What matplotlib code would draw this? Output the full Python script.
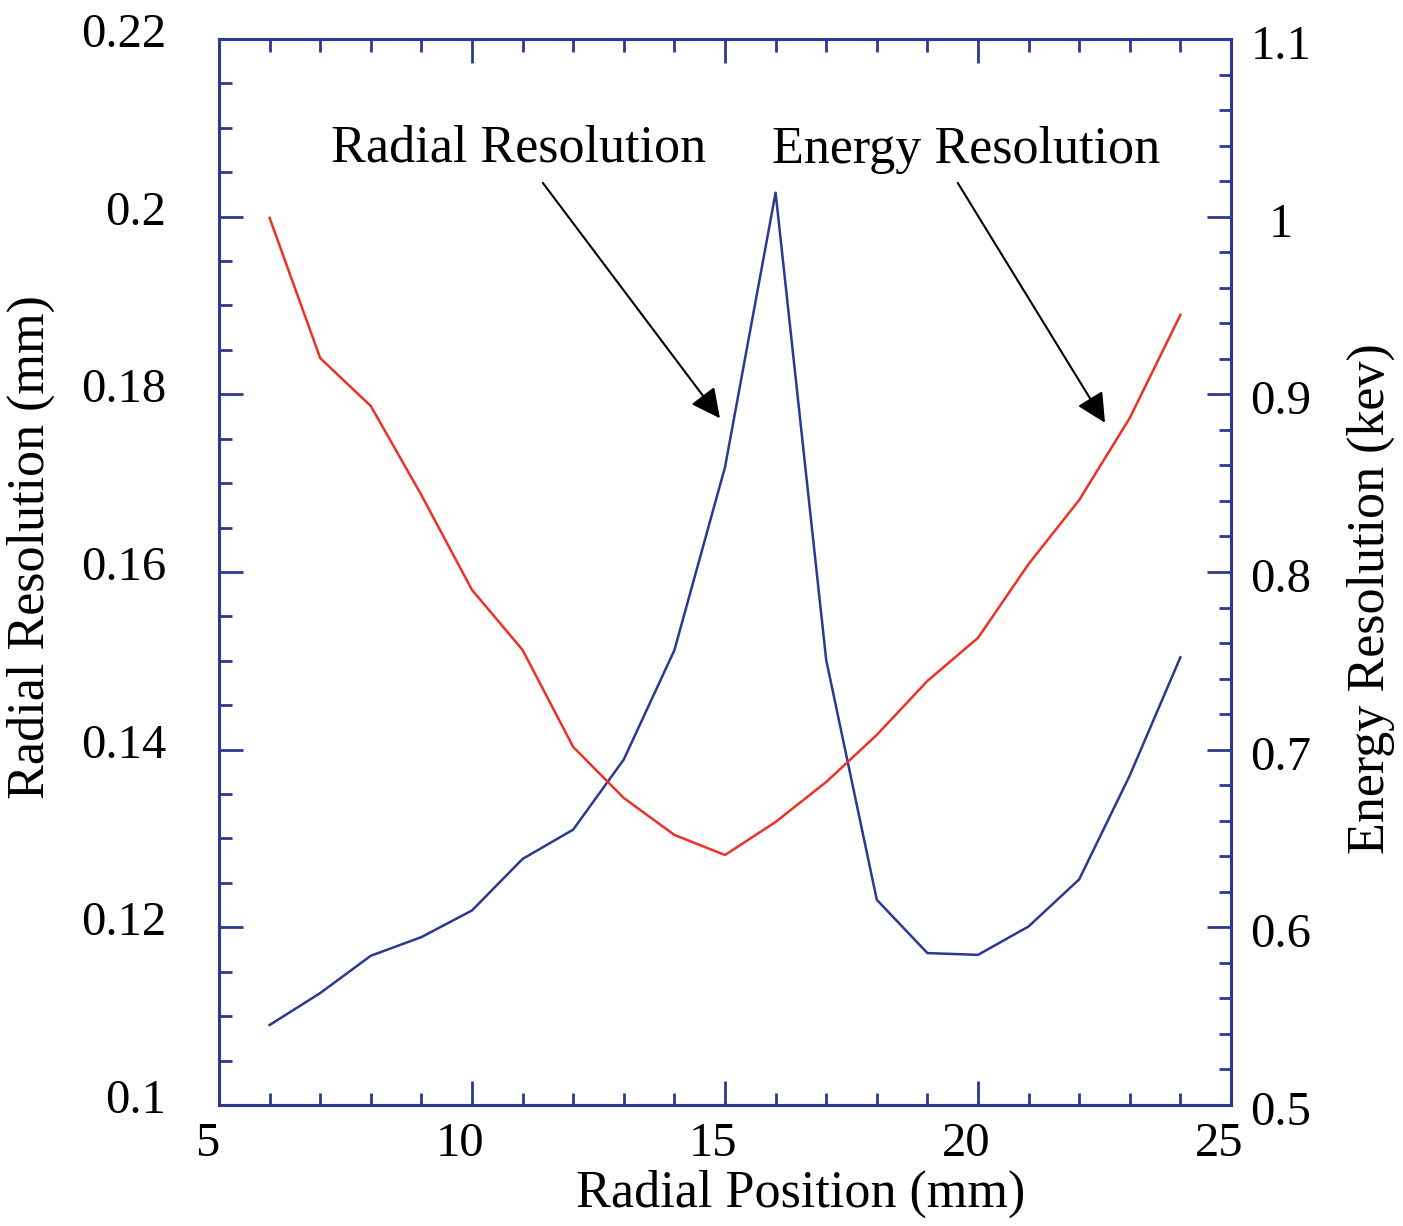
import matplotlib
matplotlib.use("Agg")
import matplotlib.pyplot as plt
import matplotlib.transforms as mtransforms
from matplotlib.ticker import MultipleLocator

# Data
position = [6, 7, 8, 9, 10, 11, 12, 13, 14, 15, 16, 17, 18, 19, 20, 21, 22, 23, 24]
radial_res = [0.1090, 0.1126, 0.1168, 0.1189, 0.1219, 0.1277, 0.1310, 0.1389,
              0.1512, 0.1718, 0.2027, 0.1501, 0.1231, 0.1171, 0.1169, 0.1201,
              0.1254, 0.1371, 0.1504]
energy_res = [0.9993, 0.9204, 0.8934, 0.8433, 0.7899, 0.7561, 0.7015, 0.6728,
              0.6520, 0.6407, 0.6593, 0.6818, 0.7083, 0.7387, 0.7629, 0.8045,
              0.8405, 0.8867, 0.9447]

x_ticks = [5, 10, 15, 20, 25]
x_labels = ['5', '10', '15', '20', '25']
left_ticks = [0.1, 0.12, 0.14, 0.16, 0.18, 0.2, 0.22]
left_labels = ['0.1', '0.12', '0.14', '0.16', '0.18', '0.2', '0.22']
right_ticks = [0.5, 0.6, 0.7, 0.8, 0.9, 1.0, 1.1]
right_labels = ['0.5', '0.6', '0.7', '0.8', '0.9', '1', '1.1']

navy = '#2B3990'
red = '#EE3124'
plt.rcParams['font.family'] = ['Liberation Serif', 'DejaVu Serif']
fs_tick = 35
fs = 37.5

fig = plt.figure(figsize=(14.03, 12.26), dpi=100)
ax = fig.add_axes([0.1561, 0.0987, 0.8774 - 0.1561, 0.9682 - 0.0987])
ax2 = ax.twinx()

ax.plot(position, radial_res, color=navy, lw=1.8)
ax2.plot(position, energy_res, color=red, lw=1.8)

ax.set_xlim(5, 25)
ax.set_ylim(0.1, 0.22)
ax2.set_ylim(0.5, 1.1)

ax.xaxis.set_minor_locator(MultipleLocator(1))
ax.yaxis.set_minor_locator(MultipleLocator(0.005))
ax2.yaxis.set_minor_locator(MultipleLocator(0.02))
ax.set_xticks(x_ticks, x_labels)
ax.set_yticks(left_ticks, left_labels)
ax2.set_yticks(right_ticks, right_labels)

for a in (ax, ax2):
    for s in a.spines.values():
        s.set_color(navy)
        s.set_linewidth(2.2)
ax.tick_params(axis='x', which='both', direction='in', top=True, bottom=True,
               color=navy, labelsize=fs_tick, pad=12)
ax.tick_params(axis='y', which='both', direction='in', left=True, right=False,
               color=navy, labelsize=fs_tick, pad=38)
ax2.tick_params(axis='y', which='both', direction='in', color=navy,
                labelsize=fs_tick, pad=36)
for a in (ax, ax2):
    a.tick_params(which='major', length=17, width=2)
    a.tick_params(which='minor', length=9, width=2)

# small shifts seen in the reference labels
off_x = mtransforms.ScaledTranslation(-12 / 100, 0, fig.dpi_scale_trans)
for lab in ax.get_xticklabels():
    lab.set_transform(lab.get_transform() + off_x)
off_y = mtransforms.ScaledTranslation(0, 9 / 100, fig.dpi_scale_trans)
for lab in ax.get_yticklabels():
    lab.set_transform(lab.get_transform() + off_y)
off_r = mtransforms.ScaledTranslation(0, -3 / 100, fig.dpi_scale_trans)
for lab in ax2.get_yticklabels():
    lab.set_horizontalalignment('center')
    lab.set_transform(lab.get_transform() + off_r)

ax.set_xlabel('Radial Position (mm)', fontsize=fs)
ax.xaxis.set_label_coords(0.575, -0.061)
ax.set_ylabel('Radial Resolution (mm)', fontsize=fs)
ax.yaxis.set_label_coords(-0.162, 0.523)
ax2.set_ylabel('Energy Resolution (kev)', fontsize=fs, rotation=90)
ax2.yaxis.set_label_coords(1.1146, 0.4747)

arrow = dict(arrowstyle='-|>,head_length=0.6,head_width=0.3', mutation_scale=30,
             lw=1.5, color='black', shrinkA=0, shrinkB=0)
ax.annotate('', xy=(14.9, 0.1773), xytext=(11.4, 0.2038), arrowprops=arrow)
ax.annotate('', xy=(22.51, 0.1768), xytext=(19.6, 0.2038), arrowprops=arrow)
ax.text(10.92, 0.2077, 'Radial Resolution', fontsize=fs, ha='center', va='center')
ax.text(19.76, 0.2075, 'Energy Resolution', fontsize=fs, ha='center', va='center')

fig.savefig('out.png', dpi=100)
